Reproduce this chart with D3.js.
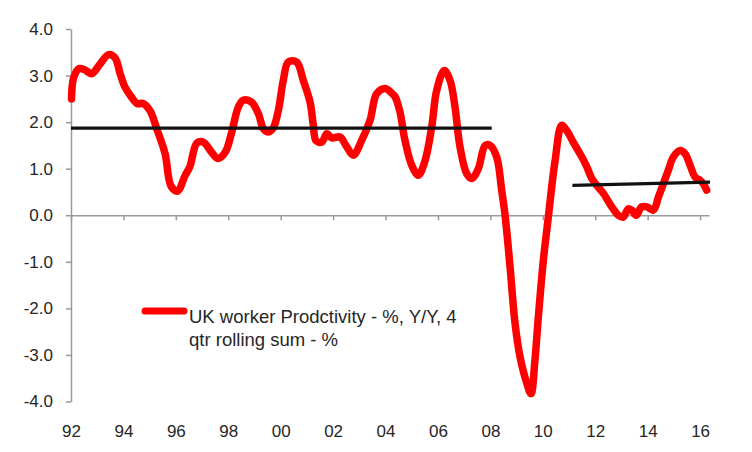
<!DOCTYPE html>
<html>
<head>
<meta charset="utf-8">
<script src="https://cdn.jsdelivr.net/npm/d3@7"></script>
<style>
  html, body { margin: 0; padding: 0; background: #fff; }
  svg { display: block; }
</style>
</head>
<body>
<svg id="chart" width="752" height="452"></svg>
<script>
// ---- data ----
const years = [
  1992.02, 1992.10, 1992.31, 1992.53, 1992.79, 1993.11, 1993.43, 1993.68, 1993.87,
  1994.06, 1994.29, 1994.52, 1994.75, 1995.01, 1995.27, 1995.59, 1995.82,
  1996.07, 1996.35, 1996.54, 1996.80, 1997.05, 1997.37, 1997.60, 1997.88,
  1998.13, 1998.38, 1998.57, 1998.89, 1999.15, 1999.34, 1999.53, 1999.72, 1999.91,
  2000.10, 2000.29, 2000.61, 2000.86, 2001.12, 2001.24, 2001.35, 2001.57, 2001.76, 2001.95,
  2002.26, 2002.52, 2002.77, 2003.09, 2003.41, 2003.66, 2003.98,
  2004.24, 2004.36, 2004.55, 2004.74, 2005.00, 2005.25, 2005.51, 2005.76, 2005.95,
  2006.24, 2006.46, 2006.65, 2006.84, 2007.10, 2007.29, 2007.54, 2007.80, 2007.99,
  2008.24, 2008.43, 2008.56, 2008.75, 2008.94, 2009.13, 2009.39, 2009.55, 2009.70, 2009.83,
  2010.02, 2010.21, 2010.47, 2010.72, 2010.91, 2011.16, 2011.49, 2011.68, 2011.87,
  2012.06, 2012.31, 2012.63, 2012.88, 2013.07, 2013.26, 2013.39, 2013.56, 2013.77, 2013.97,
  2014.22, 2014.41, 2014.60, 2014.79, 2014.98, 2015.24, 2015.43, 2015.62, 2015.81,
  2016.00, 2016.12, 2016.25
];
const productivity = [
  2.50, 2.95, 3.15, 3.12, 3.04, 3.25, 3.45, 3.38, 3.05,
  2.75, 2.55, 2.40, 2.40, 2.25, 1.86, 1.32, 0.62,
  0.52, 0.85, 1.05, 1.55, 1.57, 1.35, 1.22, 1.35,
  1.78, 2.32, 2.47, 2.43, 2.18, 1.86, 1.79, 1.88, 2.25,
  2.90, 3.29, 3.29, 2.90, 2.43, 1.95, 1.60, 1.57, 1.75, 1.66,
  1.68, 1.47, 1.29, 1.61, 2.04, 2.61, 2.72,
  2.62, 2.55, 2.22, 1.61, 1.07, 0.86, 1.18, 1.89, 2.68,
  3.11, 2.90, 2.32, 1.47, 0.89, 0.79, 1.00, 1.50, 1.50,
  1.25, 0.54, 0.00, -1.11, -2.32, -3.04, -3.61, -3.83, -3.11, -2.18,
  -0.97, -0.04, 1.18, 1.93, 1.82, 1.57, 1.25, 1.04, 0.79,
  0.64, 0.47, 0.18, 0.00, -0.04, 0.14, 0.11, 0.00, 0.18, 0.18,
  0.11, 0.39, 0.68, 0.97, 1.25, 1.39, 1.32, 1.07, 0.82,
  0.75, 0.68, 0.54
];
const avgPeriod1Years = [1992.0, 2008.05];
const avgPeriod1Values = [1.87, 1.87];
const avgPeriod2Years = [2011.13, 2016.38];
const avgPeriod2Values = [0.64, 0.71];

const xTickYears = [1992, 1994, 1996, 1998, 2000, 2002, 2004, 2006, 2008, 2010, 2012, 2014, 2016];
const xTickLabels = ["92", "94", "96", "98", "00", "02", "04", "06", "08", "10", "12", "14", "16"];
const yTickValues = [4, 3, 2, 1, 0, -1, -2, -3, -4];
const legendLines = ["UK worker Prodctivity - %, Y/Y, 4", "qtr rolling sum - %"];

// ---- drawing ----
const svg = d3.select("#chart");
const FONT = "'Liberation Sans', Arial, sans-serif";
const AXIS_GRAY = "#9a9a9a";
const TEXT = "#262626";

const x = d3.scaleLinear().domain([1992, 2016.34]).range([71, 709]);
const y = d3.scaleLinear().domain([-4, 4]).range([401.5, 29]);

svg.append("rect").attr("width", 752).attr("height", 452).attr("fill", "#fff");

// Y axis
const yAxis = svg.append("g")
  .attr("transform", `translate(${x(1992)},0)`)
  .call(d3.axisLeft(y).tickValues(yTickValues).tickSize(5).tickPadding(13)
    .tickFormat(v => v.toFixed(1)).tickSizeOuter(0));
yAxis.select(".domain").attr("stroke", AXIS_GRAY).attr("stroke-width", 1.5);
yAxis.selectAll(".tick line").attr("stroke", AXIS_GRAY).attr("stroke-width", 1.5);
yAxis.selectAll("text").attr("fill", TEXT).attr("font-family", FONT).attr("font-size", 17);

// X axis (line at zero with ticks)
const xAxis = svg.append("g")
  .attr("transform", `translate(0,${y(0)})`)
  .call(d3.axisBottom(x).tickValues(xTickYears).tickSize(5).tickFormat("").tickSizeOuter(0));
xAxis.select(".domain").attr("stroke", AXIS_GRAY).attr("stroke-width", 1.5);
xAxis.selectAll(".tick line").attr("stroke", AXIS_GRAY).attr("stroke-width", 1.5);

// X labels at the bottom (low position)
const xLabels = svg.append("g")
  .attr("transform", `translate(0,424.5)`)
  .call(d3.axisBottom(x).tickValues(xTickYears).tickSize(0).tickPadding(0)
    .tickFormat((d, i) => xTickLabels[i]));
xLabels.select(".domain").remove();
xLabels.selectAll("text").attr("fill", TEXT).attr("font-family", FONT).attr("font-size", 17);

// Red series
const line = d3.line()
  .x(d => x(d[0]))
  .y(d => y(d[1]))
  .curve(d3.curveCatmullRom.alpha(0.5));

svg.append("path")
  .datum(years.map((yr, i) => [yr, productivity[i]]))
  .attr("d", line)
  .attr("fill", "none")
  .attr("stroke", "#ff0000")
  .attr("stroke-width", 7.5)
  .attr("stroke-linejoin", "round")
  .attr("stroke-linecap", "round");

// Black average lines
const straight = d3.line().x(d => x(d[0])).y(d => y(d[1]));
[[avgPeriod1Years, avgPeriod1Values], [avgPeriod2Years, avgPeriod2Values]].forEach(([ys, vs]) => {
  svg.append("path")
    .datum(ys.map((yr, i) => [yr, vs[i]]))
    .attr("d", straight)
    .attr("fill", "none")
    .attr("stroke", "#111")
    .attr("stroke-width", 3.2);
});

// Legend
const legend = svg.append("g");
legend.append("line")
  .attr("x1", 145).attr("x2", 184).attr("y1", 311).attr("y2", 311)
  .attr("stroke", "#ff0000").attr("stroke-width", 7).attr("stroke-linecap", "round");
legend.selectAll("text.leg")
  .data(legendLines)
  .join("text")
  .attr("class", "leg")
  .attr("x", 189)
  .attr("y", (d, i) => 323 + i * 22.5)
  .attr("fill", TEXT)
  .attr("font-family", FONT)
  .attr("font-size", 18.5)
  .text(d => d);
</script>
</body>
</html>
